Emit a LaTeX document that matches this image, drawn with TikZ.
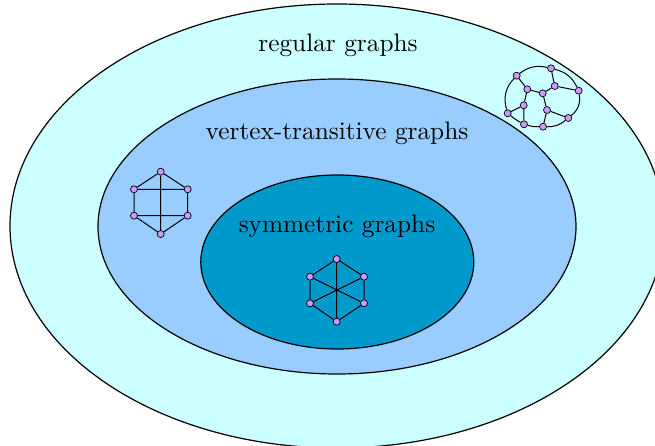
\documentclass[tikz,border=0pt]{standalone}
\usepackage{fontspec}
\newfontfamily\lmten{lmroman10-regular}[Extension=.otf]
\definecolor{outerc}{RGB}{204,255,255}
\definecolor{midc}{RGB}{153,204,255}
\definecolor{innerc}{RGB}{0,153,204}
\definecolor{vtx}{RGB}{204,153,255}
\tikzset{
  region/.style={draw=black,line width=1.2pt},
  lbl/.style={font=\lmten\fontsize{25.3}{30}\selectfont,inner sep=0pt},
  v/.style={circle,draw=black,fill=vtx,line width=0.7pt,minimum size=7pt,inner sep=0pt},
  ed/.style={line width=1pt}
}
\begin{document}
\begin{tikzpicture}[x=1pt,y=-1pt]
\useasboundingbox (0,0) rectangle (655,446);
\begin{scope}
\clip (0,0) rectangle (655,446);
\fill[outerc] (337,226) ellipse [x radius=327, y radius=222];
\draw[region] (337,226) ellipse [x radius=327, y radius=222];
\end{scope}
\draw[region,fill=midc] (337,226.5) ellipse [x radius=239, y radius=147.5];
\draw[region,fill=innerc] (337.3,262) ellipse [x radius=136.5, y radius=87];
\node[lbl] (t1) at (338,45) {regular graphs};
\node[lbl] (t2) at (337,133) {vertex-transitive graphs};
\node[lbl] (t3) at (337,226) {symmetric graphs};
% left graph
\node[v] (a1) at (160.7,171.7) {};
\node[v] (a2) at (134,189.3) {};
\node[v] (a3) at (187.7,189.3) {};
\node[v] (a4) at (134,215.7) {};
\node[v] (a5) at (187.7,215.7) {};
\node[v] (a6) at (160.7,234) {};
\draw[ed] (a1)--(a2) (a1)--(a3) (a2)--(a4) (a3)--(a5) (a4)--(a6) (a5)--(a6)
  (a2)--(a3) (a4)--(a5) (a1)--(a6);
% center graph
\node[v] (b1) at (336.7,259) {};
\node[v] (b2) at (310,276.7) {};
\node[v] (b3) at (364,276.7) {};
\node[v] (b4) at (310,303.3) {};
\node[v] (b5) at (364,303.3) {};
\node[v] (b6) at (336.7,321.7) {};
\draw[ed] (b1)--(b2) (b1)--(b3) (b2)--(b4) (b3)--(b5) (b4)--(b6) (b5)--(b6)
  (b1)--(b6) (b2)--(b5) (b3)--(b4);
% Frucht graph
\node[v] (A) at (516.7,75.7) {};
\node[v] (B) at (551,68.3) {};
\node[v] (C) at (527.3,89.3) {};
\node[v] (D) at (554.7,86) {};
\node[v] (E) at (578.7,90.7) {};
\node[v] (F) at (542.7,93.3) {};
\node[v] (G) at (523.7,105.3) {};
\node[v] (H) at (547,110) {};
\node[v] (I) at (507.7,113.3) {};
\node[v] (J) at (568.3,118) {};
\node[v] (K) at (524,124.3) {};
\node[v] (L) at (543,126.7) {};
\draw[ed] (A) to[bend left=25] (B);
\draw[ed] (B) to[bend left=25] (E);
\draw[ed] (E) to[bend left=30] (J);
\draw[ed] (J) to[bend left=20] (L);
\draw[ed] (L) to[bend left=8] (K);
\draw[ed] (K) to[bend left=5] (I);
\draw[ed] (I) to[bend left=30] (A);
\draw[ed] (A)--(C) (B)--(D) (D)--(E) (C)--(F) (D)--(F) (C)--(G) (G)--(I) (G)--(K)
  (F)--(H) (H)--(J) (H)--(L);
\end{tikzpicture}
\end{document}
